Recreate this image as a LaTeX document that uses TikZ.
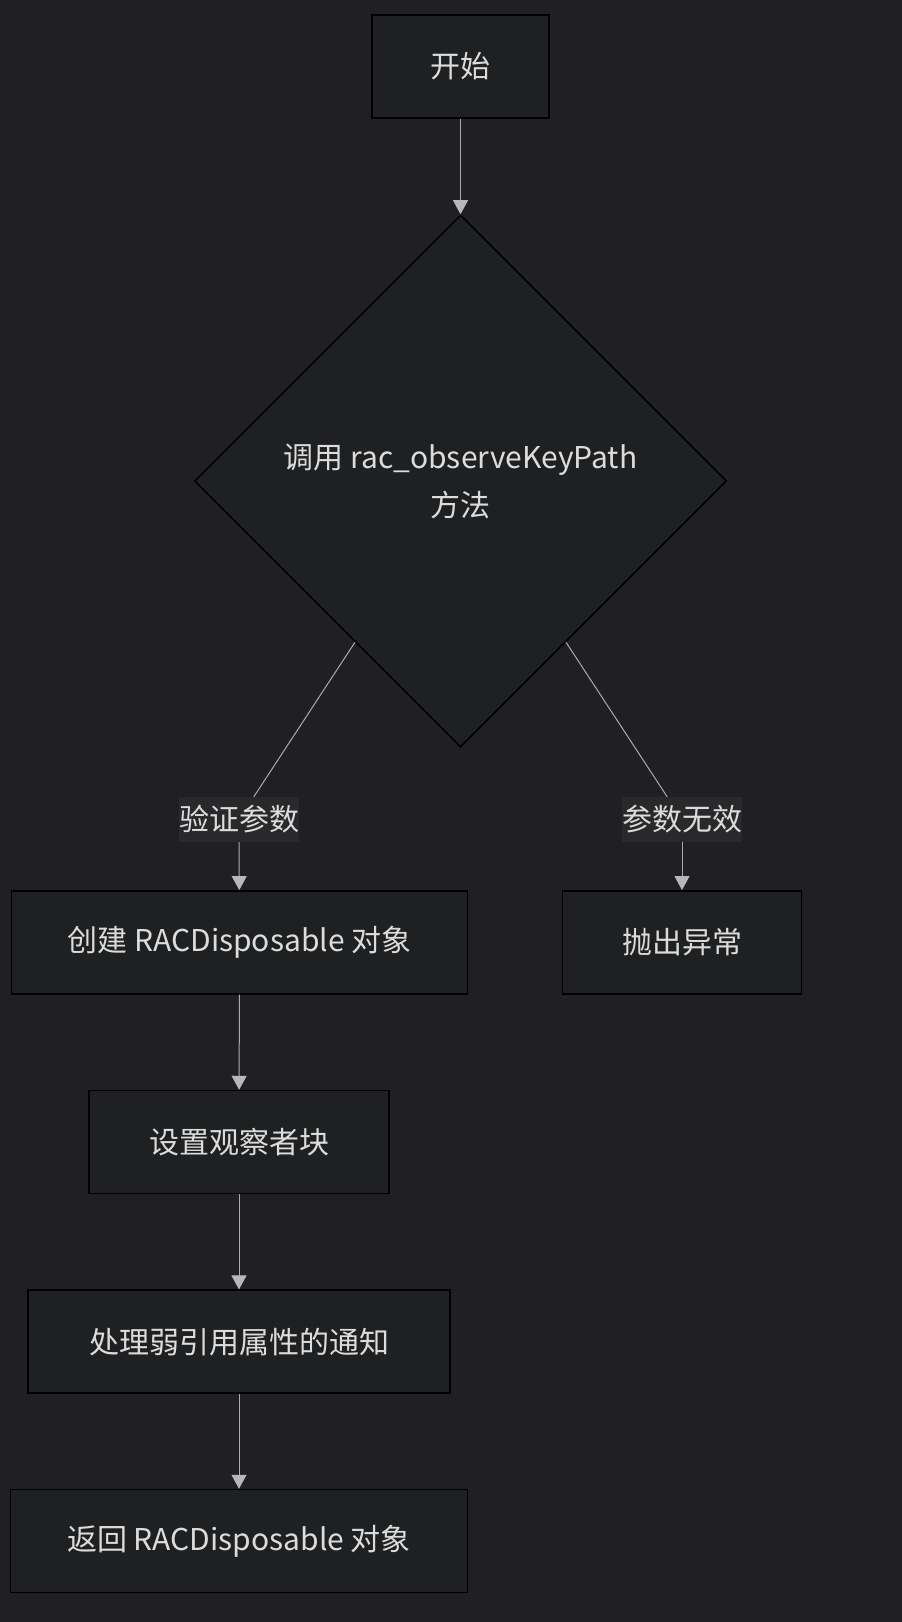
\documentclass[tikz,border=0pt]{standalone}
\usepackage{fontspec}
\setmainfont{Noto Sans CJK SC}
\usetikzlibrary{shapes.geometric,arrows.meta}

\definecolor{bgcol}{HTML}{202024}
\definecolor{boxfill}{HTML}{1F2022}
\definecolor{txtcol}{HTML}{DCDCDC}
\definecolor{lblfill}{HTML}{29292B}
\definecolor{edgecol}{HTML}{ABABAB}
\definecolor{tipcol}{HTML}{B8B8B8}

\begin{document}
\begin{tikzpicture}[x=1pt,y=-1pt,
  every node/.style={font=\fontsize{30}{48}\selectfont,text=txtcol},
  box/.style={draw=black,line width=1.5pt,fill=boxfill,minimum height=103pt,inner sep=0pt},
  decision/.style={diamond,draw=black,line width=1.5pt,fill=boxfill,minimum width=532pt,minimum height=532pt,inner sep=0pt,align=center},
  lbl/.style={fill=lblfill,inner xsep=0pt,inner ysep=0pt,minimum height=45pt},
  link/.style={draw=edgecol,line width=1pt},
  arr/.style={link,-{Triangle[width=15pt,length=14pt,fill=tipcol,color=tipcol]}}]
\fill[bgcol] (0,0) rectangle (902,1622);
\useasboundingbox (0,0) rectangle (902,1622);

% nodes
\node[box,minimum width=177pt] (start) at (460.5,66.5) {开始};
\node[decision] (call) at (460.5,481) {调用 rac\_observeKeyPath\\方法};
\node[lbl] (valid) at (239,819.5) {验证参数};
\node[lbl] (invalid) at (682,819.5) {参数无效};
\node[box,minimum width=456pt] (create) at (239.5,942.3) {创建 RACDisposable 对象};
\node[box,minimum width=239pt] (throw) at (682,942.3) {抛出异常};
\node[box,minimum width=300pt] (block) at (239,1142) {设置观察者块};
\node[box,minimum width=422pt] (notify) at (239,1341.7) {处理弱引用属性的通知};
\node[box,minimum width=457pt] (ret) at (239,1541) {返回 RACDisposable 对象};

% edges
\draw[arr] (start) -- (call);
\draw[link] (call) -- (valid);
\draw[link] (call) -- (invalid);
\draw[arr] (valid) -- (create);
\draw[arr] (invalid) -- (throw);
\foreach \a/\b in {create/block,block/notify,notify/ret} {
\draw[arr] (\a) -- (\b);
}
\end{tikzpicture}
\end{document}
